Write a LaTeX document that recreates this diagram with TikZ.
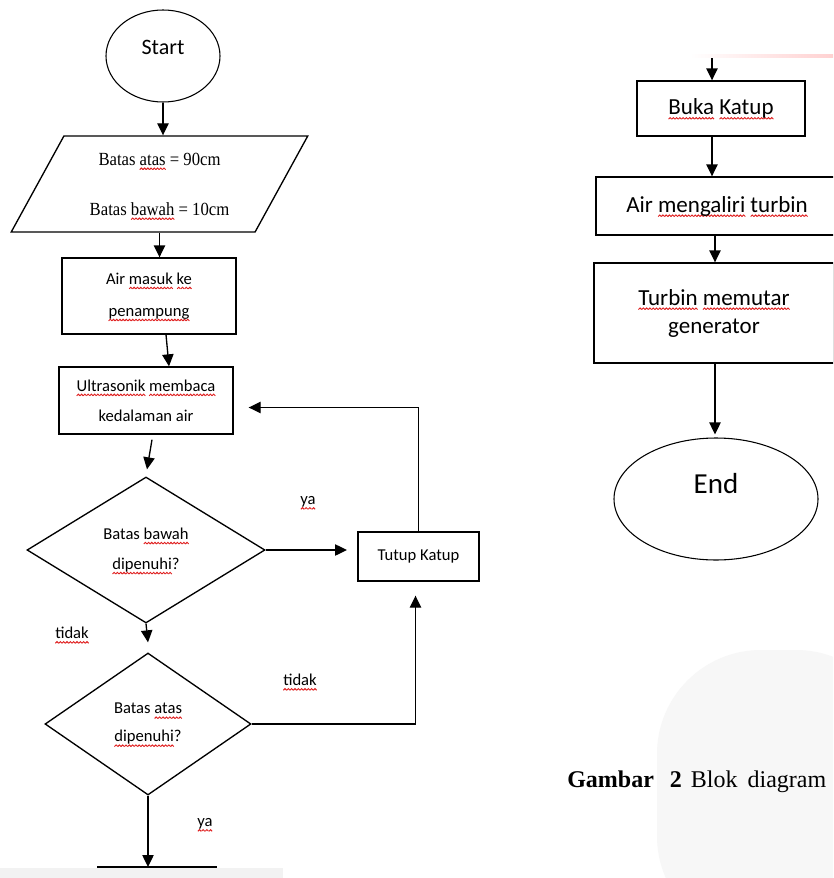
\documentclass[tikz,border=0pt]{standalone}
\usepackage{fontspec}
\usetikzlibrary{shapes.geometric,arrows.meta}
\newfontfamily\calib{Carlito}
\newfontfamily\timesf{Liberation Serif}
\newfontfamily\timesc{Liberation Serif}[FakeStretch=0.9]
\definecolor{squig}{HTML}{E02020}
\definecolor{bgsoft}{HTML}{F7F7F7}
\definecolor{bgstrip}{HTML}{F2F2F2}
\newsavebox\wavebox
\newsavebox\sqword
\newcommand\sq[1]{\sbox\sqword{#1}\rlap{\raisebox{-3.4pt}[0pt][0pt]{\hbox to \wd\sqword{\xleaders\copy\wavebox\hfill}}}\usebox\sqword}
\tikzset{
  box/.style={draw, line width=1pt, rectangle, inner sep=0pt, align=center},
  oval/.style={draw, line width=0.8pt, ellipse, inner sep=0pt},
  decide/.style={draw, line width=1pt, diamond, inner sep=0pt, align=center},
  flow/.style={line width=1pt, -{Triangle[length=9pt,width=8.5pt]}},
  plain/.style={line width=1pt},
  lbl/.style={inner sep=0pt, font=\calib\fontsize{12.45}{15}\selectfont},
}
\begin{document}
\sbox\wavebox{\begin{pgfpicture}%
\pgfpathrectangle{\pgfpointorigin}{\pgfpoint{2.4pt}{1.2pt}}\pgfusepath{use as bounding box}%
\pgfsetlinewidth{0.7pt}\pgfsetstrokecolor{squig}%
\pgfpathmoveto{\pgfpoint{0pt}{0pt}}\pgfpathlineto{\pgfpoint{1.2pt}{1.2pt}}\pgfpathlineto{\pgfpoint{2.4pt}{0pt}}\pgfusepath{stroke}%
\end{pgfpicture}}%
\begin{tikzpicture}[x=0.75pt,y=-0.75pt]
\clip (0,0) rectangle (833,878);
\fill[white] (0,0) rectangle (833,878);
% background artefacts
\fill[bgsoft, rounded corners=78pt] (657,940) -- (657,650) -- (900,650) -- (900,940) -- cycle;
\fill[bgstrip] (0,868) rectangle (283,878);
\shade[left color=white, right color=red!18] (690,54) rectangle (833,57);

% left column
\node[oval, minimum width=85.5pt, minimum height=69pt, text depth=13.5pt,
      font=\calib\fontsize{16.5}{20}\selectfont] (start) at (163,56) {Start};
\node[draw, line width=1pt, trapezium, trapezium left angle=58.4, trapezium right angle=121.6,
      trapezium stretches=true, minimum width=222.75pt, minimum height=72pt, inner sep=0pt,
      align=center, font=\timesc\fontsize{13.9}{37.5}\selectfont] (par) at (159.5,184)
      {Batas \sq{atas} = 90cm\\Batas \sq{bawah} = 10cm};
\node[box, minimum width=130.5pt, minimum height=57pt,
      font=\calib\fontsize{12.45}{24}\selectfont] (box1) at (149,296)
      {Air \sq{masuk} \sq{ke}\\\sq{penampung}};
\node[box, minimum width=130.5pt, minimum height=50.25pt,
      font=\calib\fontsize{12.45}{22.5}\selectfont] (box2) at (146,400.5)
      {\sq{Ultrasonik} \sq{membaca}\\kedalaman air};
\node[decide, minimum width=178.5pt, minimum height=109.5pt,
      font=\calib\fontsize{12.45}{22.5}\selectfont] (d1) at (146,550)
      {Batas \sq{bawah}\\\sq{dipenuhi}?};
\node[decide, minimum width=154.5pt, minimum height=106.5pt,
      font=\calib\fontsize{12.45}{21}\selectfont] (d2) at (148,724)
      {Batas \sq{atas}\\\sq{dipenuhi}?};
\node[box, minimum width=90.75pt, minimum height=36.75pt,
      font=\calib\fontsize{12.45}{15}\selectfont] (tutup) at (418.5,556.5) {Tutup Katup};

% right column
\node[box, minimum width=126pt, minimum height=41.25pt,
      font=\calib\fontsize{17.25}{21}\selectfont] (buka) at (721,108.5) {\sq{Buka} \sq{Katup}};
\node[box, minimum width=181.5pt, minimum height=43.5pt,
      font=\calib\fontsize{17.25}{21}\selectfont] (aliri) at (717,206) {Air \sq{mengaliri} \sq{turbin}};
\node[box, minimum width=180pt, minimum height=75pt,
      font=\calib\fontsize{17.25}{21}\selectfont] (turbin) at (714,313) {\sq{Turbin} \sq{memutar}\\generator};
\node[oval, minimum width=153pt, minimum height=91.5pt, text depth=24pt,
      font=\calib\fontsize{21.75}{26}\selectfont] (end) at (716,499) {End};

% labels
\node[lbl] (ya1) at (308,502) {\sq{ya}};
\node[lbl] (tidak1) at (72,633) {\sq{tidak}};
\node[lbl] (tidak2) at (300,680) {\sq{tidak}};
\node[lbl] (ya2) at (205,824) {\sq{ya}};

% free ends
\coordinate (yaend) at (347,550);
\coordinate (cutin) at (148,867);
\coordinate (cutl) at (97,867);
\coordinate (cutr) at (217,867);
\coordinate (topin) at (712,58);

% connectors left
\draw[flow] (start.south) -- (start.south |- par.north);
\draw[flow] (par.south) -- (par.south |- box1.north);
\draw[flow] ([shift={(17,0)}]box1.south) -- ([shift={(23,0)}]box2.north);
\draw[flow] ([shift={(6,5)}]box2.south) -- ([shift={(1,-7)}]d1.north);
\draw[flow] (d1.east) -- (yaend);
\draw[flow] (tutup.north) |- ([shift={(15,7)}]box2.east);
\draw[flow] (d1.south) -- ([shift={(0,-10)}]d2.north);
\draw[flow] (d2.east) -| ([shift={(-3,14)}]tutup.south);
\draw[flow] (d2.south) -- (cutin);
\draw[plain] (cutl) -- (cutr);

% connectors right
\draw[flow] (topin) -- (topin |- buka.north);
\draw[flow] ([shift={(-9,0)}]buka.south) -- ([shift={(-5,0)}]aliri.north);
\draw[flow] ([shift={(-2,0)}]aliri.south) -- ([shift={(1,0)}]turbin.north);
\draw[flow] ([shift={(1,0)}]turbin.south) -- ([shift={(-1,-3)}]end.north);

% caption
\node[anchor=base west, inner sep=0pt, font=\timesf\fontsize{18}{20}\selectfont] (cap) at (567,787)
  {\textbf{Gambar}\hspace{12pt}\textbf{2}\hspace{6.75pt}Blok\hspace{7.5pt}diagram};
\end{tikzpicture}
\end{document}
